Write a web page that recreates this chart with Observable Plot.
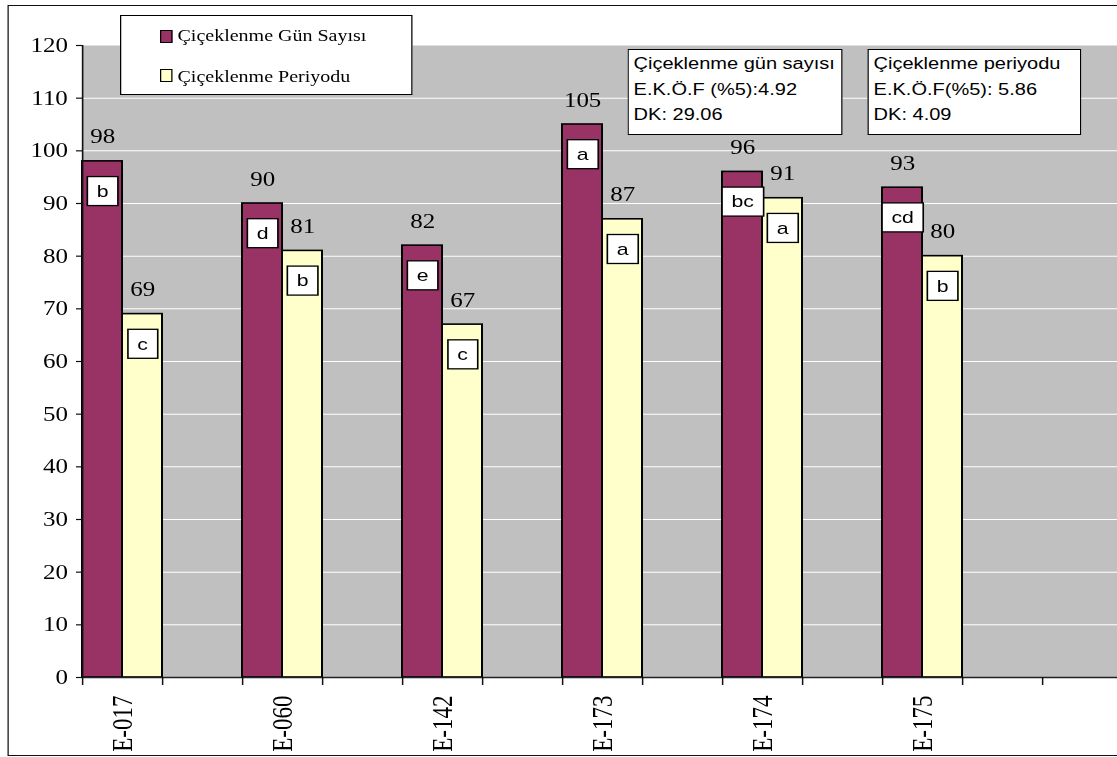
<!DOCTYPE html>
<html lang="tr">
<head>
<meta charset="utf-8">
<script src="https://cdn.jsdelivr.net/npm/d3@7"></script>
<script src="https://cdn.jsdelivr.net/npm/@observablehq/plot@0.6"></script>
<style>
  html, body { margin: 0; padding: 0; background: #fff; overflow: hidden; }
  /* the whole sheet is drawn narrow and widened horizontally, like a stretched spreadsheet chart */
  #stage { position: absolute; left: 0; top: 0; width: 894px; height: 757px;
           transform: scaleX(1.25); transform-origin: 0 0; }
  #stage svg { position: absolute; left: 0; top: 0; max-width: none; }
  #stage svg text { font-family: "Liberation Serif", "Times New Roman", serif; }
  #stage svg g.grup-harfi text { font-family: "Liberation Sans", Arial, sans-serif; }
  #border { position: absolute; left: 5.6px; top: 5px; width: 1000px; height: 751px;
            border: 1.5px solid #111; box-sizing: border-box; pointer-events: none; }
  .legend { position: absolute; left: 96px; top: 15px; width: 233.6px; height: 80px;
            background: #fff; border: 1.3px solid #000; box-sizing: border-box;
            font-family: "Liberation Serif", "Times New Roman", serif; font-size: 16px; color: #000; }
  .legend .sw { position: absolute; left: 31px; width: 10.4px; height: 13px;
                border: 1.3px solid #000; box-sizing: border-box; }
  .legend .lb { position: absolute; left: 45px; line-height: 16px; white-space: nowrap; }
  .note { position: absolute; top: 49px; height: 86px; background: #fff;
          border: 1.3px solid #000; box-sizing: border-box; padding: 1px 0 0 3.5px;
          font-family: "Liberation Sans", Arial, sans-serif; font-size: 16px;
          line-height: 25.7px; color: #000; white-space: nowrap; }
</style>
</head>
<body>
<div id="stage"></div>
<script>
// Çiçeklenme verileri (genotip başına)
const genotypes = ["E-017", "E-060", "E-142", "E-173", "E-174", "E-175"];
const floweringDays = [98, 90, 82, 105, 96, 93];     // Çiçeklenme Gün Sayısı
const floweringPeriod = [69, 81, 67, 87, 91, 80];    // Çiçeklenme Periyodu
const daysGroups = ["b", "d", "e", "a", "bc", "cd"];  // önemlilik grupları (gün sayısı)
const periodGroups = ["c", "b", "c", "a", "a", "b"];  // önemlilik grupları (periyot)
const seriesNames = ["Çiçeklenme Gün Sayısı", "Çiçeklenme Periyodu"];
const seriesColors = ["#993366", "#ffffcc"];
const yTicks = [0, 10, 20, 30, 40, 50, 60, 70, 80, 90, 100, 110, 120];
const statNotes = [
  ["Çiçeklenme gün sayısı", "E.K.Ö.F (%5):4.92", "DK: 29.06"],
  ["Çiçeklenme periyodu", "E.K.Ö.F(%5): 5.86", "DK: 4.09"]
];

// Category slots: each genotype followed by an empty slot, plus one trailing empty slot
const slots = genotypes.flatMap((g, i) => [g, "·" + i]).concat(["·" + genotypes.length]);

const rows = genotypes.map((g, i) => ({
  genotype: g,
  days: floweringDays[i],
  period: floweringPeriod[i],
  dGroup: daysGroups[i],
  pGroup: periodGroups[i]
}));

const W = 894, H = 757;
const ML = 65.6;       // left margin
const BW = 64;         // slot width
const serif = "Liberation Serif, Times New Roman, serif";
const sans = "Liberation Sans, Arial, sans-serif";

const chart = Plot.plot({
  width: W,
  height: H,
  marginLeft: ML,
  marginRight: 0,
  marginTop: 45,
  marginBottom: 80,
  style: {background: "transparent", fontFamily: serif, fontSize: "20px", color: "#000"},
  x: {type: "band", domain: slots, range: [ML, ML + slots.length * BW], padding: 0, round: false, label: null},
  y: {domain: [0, 120], label: null},
  marks: [
    Plot.frame({fill: "#c0c0c0", stroke: null}),
    Plot.gridY(yTicks.filter(t => t > 0 && t < 120), {stroke: "#fff", strokeOpacity: 1, strokeWidth: 1}),
    Plot.barY(rows, {x: "genotype", y: "days", fill: seriesColors[0], stroke: "#000", strokeWidth: 1.6, insetLeft: 0, insetRight: BW / 2}),
    Plot.barY(rows, {x: "genotype", y: "period", fill: seriesColors[1], stroke: "#000", strokeWidth: 1.6, insetLeft: BW / 2, insetRight: 0}),
    Plot.ruleY([0], {stroke: "#222", strokeWidth: 1.6}),
    Plot.ruleX([slots[0]], {dx: -BW / 2, y1: 0, y2: 120, stroke: "#111", strokeWidth: 1.3}),
    Plot.axisY(yTicks, {tickSize: 4.8, tickPadding: 7, fontSize: 20, fontFamily: serif, stroke: "#111", strokeWidth: 1.2}),
    Plot.axisX({tickSize: 0, tickPadding: 18, tickRotate: -90, fontSize: 23, fontFamily: serif,
                tickFormat: d => genotypes.includes(d) ? d : ""}),
    Plot.axisX({tickSize: 8, dx: -BW / 2, tickFormat: () => "", stroke: "#111", strokeWidth: 1.2}),
    // değer etiketleri
    Plot.text(rows, {x: "genotype", y: "days", text: d => String(d.days), dx: -BW / 4, dy: -18,
                     lineAnchor: "bottom", fontSize: 20, fontFamily: serif, fill: "#000"}),
    Plot.text(rows, {x: "genotype", y: "period", text: d => String(d.period), dx: BW / 4, dy: -18,
                     lineAnchor: "bottom", fontSize: 20, fontFamily: serif, fill: "#000"}),
    // önemlilik harfleri
    Plot.text(rows, {x: "genotype", y: "days", text: "dGroup", dx: -BW / 4, dy: 30,
                     lineAnchor: "middle", fontSize: 17, fontFamily: sans, fill: "#000", className: "grup-harfi"}),
    Plot.text(rows, {x: "genotype", y: "period", text: "pGroup", dx: BW / 4, dy: 30,
                     lineAnchor: "middle", fontSize: 17, fontFamily: sans, fill: "#000", className: "grup-harfi"})
  ]
});

const stage = document.getElementById("stage");
stage.append(chart);

// White boxes behind the group letters
const svgNS = "http://www.w3.org/2000/svg";
let letterTexts = chart.querySelectorAll("g.grup-harfi text");
if (!letterTexts.length) letterTexts = chart.querySelectorAll('g[font-family^="Liberation Sans"] text');
letterTexts.forEach(t => {
  const b = t.getBBox();
  const bw = b.width + 15, bh = 29;
  const cx = b.x + b.width / 2, cy = b.y + b.height / 2;
  const r = document.createElementNS(svgNS, "rect");
  r.setAttribute("x", cx - bw / 2);
  r.setAttribute("y", cy - bh / 2);
  r.setAttribute("width", bw);
  r.setAttribute("height", bh);
  r.setAttribute("fill", "#fff");
  r.setAttribute("stroke", "#000");
  r.setAttribute("stroke-width", 1.3);
  if (t.getAttribute("transform")) r.setAttribute("transform", t.getAttribute("transform"));
  t.parentNode.insertBefore(r, t);
});

// Outer chart border
const border = document.createElement("div");
border.id = "border";
stage.append(border);

// Legend
const legend = document.createElement("div");
legend.className = "legend";
seriesNames.forEach((name, i) => {
  const sw = document.createElement("div");
  sw.className = "sw";
  sw.style.top = (i === 0 ? 14 : 53) + "px";
  sw.style.background = seriesColors[i];
  const lb = document.createElement("div");
  lb.className = "lb";
  lb.style.top = (i === 0 ? 11.6 : 52.6) + "px";
  lb.textContent = name;
  legend.append(sw, lb);
});
stage.append(legend);

// Statistics notes (LSD and CV)
const noteLefts = [502.4, 694.4];
const noteWidths = [171.2, 170.4];
statNotes.forEach((lines, i) => {
  const n = document.createElement("div");
  n.className = "note";
  n.style.left = noteLefts[i] + "px";
  n.style.width = noteWidths[i] + "px";
  lines.forEach(s => {
    const l = document.createElement("div");
    l.textContent = s;
    n.append(l);
  });
  stage.append(n);
});
</script>
</body>
</html>
